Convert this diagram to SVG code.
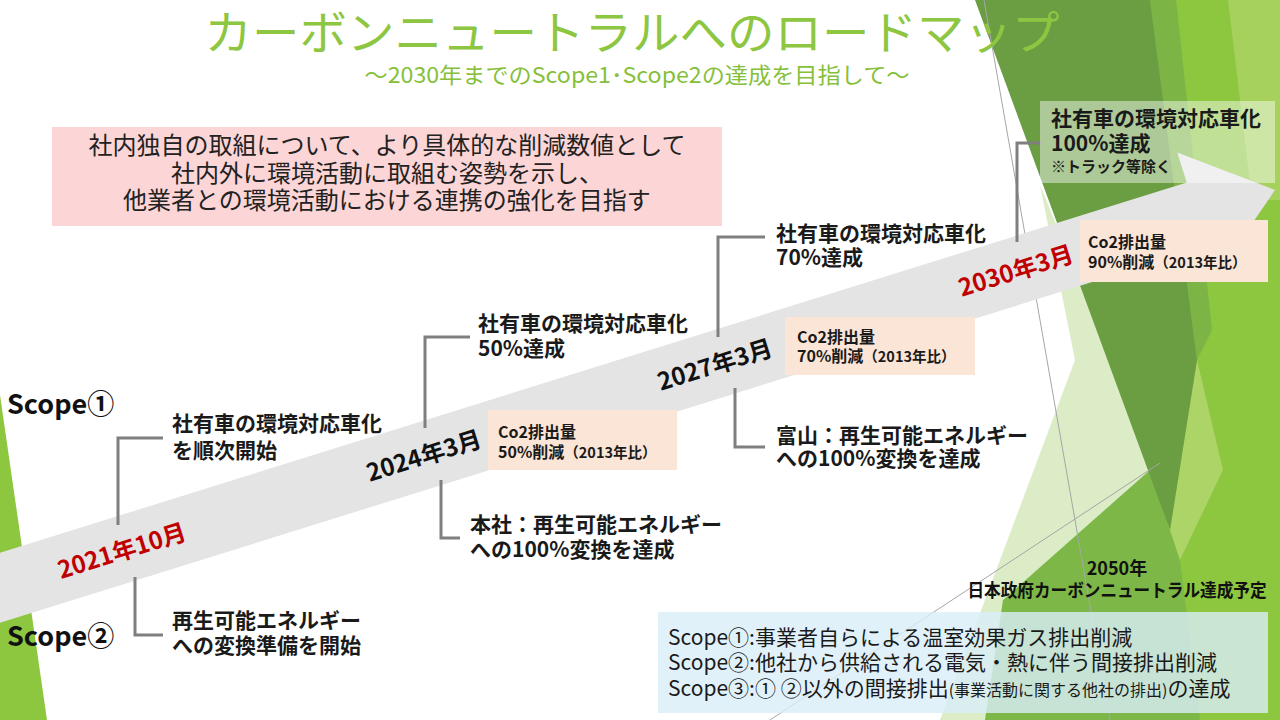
<svg xmlns="http://www.w3.org/2000/svg" width="1280" height="720" viewBox="0 0 1280 720">
<style>
text{font-family:"Noto Sans CJK JP","Noto Sans",sans-serif;}
.lbl{font-size:21px;font-weight:700;fill:#1a1a1a;}
.note{font-size:15px;font-weight:700;fill:#1a1a1a;}
.co2{font-size:16px;font-weight:700;fill:#1a1a1a;}
.co2s{font-size:14.5px;}
.date{font-size:24px;font-weight:700;text-anchor:middle;}
.red{fill:#c00000;}
.blk{fill:#111;}
.scope{font-size:27px;font-weight:700;fill:#111;}
.leg{font-size:21px;fill:#1a1a1a;}
.legs{font-size:16px;}
.pink{font-size:24px;fill:#222;text-anchor:middle;}
.goal{font-size:18px;font-weight:700;fill:#111;text-anchor:middle;}
.conn{fill:none;stroke:#7f7f7f;stroke-width:3;}
.peach{fill:#fbe5d6;}
.thin{stroke:#a6a6a6;stroke-width:1;fill:none;}
</style>
<rect width="1280" height="720" fill="#ffffff"/>
<g id="decor">
  <polygon points="0,395 47,720 0,720" fill="#8dc63f"/>
  <polygon points="1140,0 1280,0 1280,720 980,720 1150,470" fill="#8dc63f"/>
  <polygon points="1228,0 1280,0 1280,200 1252,200" fill="#a6d15c"/>
  <polygon points="1040,185 1112,360 1170,530 1060,720 940,720 1075,360" fill="#dcecc7"/>
  <polygon points="1150,470 1180,560 1200,720 985,720 1003,600" fill="#7cb748"/>
  <polygon points="1197,360 1223,470 1180,560 1170,530" fill="#add466"/>
  <polygon points="1150,0 1176,0 1212,330 1197,360" fill="#7cb445"/>
  <polygon points="975,0 1150,0 1197,360 1170,530" fill="#6b9d43"/>
  <line class="thin" x1="984" y1="0" x2="1110" y2="720"/>
  <line class="thin" x1="770" y1="720" x2="1160" y2="463"/>
</g>
<g id="band">
  <polygon points="-50,568.4 1186.7,182.5 1177.3,152.4 1275,190 1216.1,276.4 1206.6,246.3 -50,638.4" fill="#e4e4e4"/>
</g>
<g id="title">
  <text x="632" y="49" font-size="46" fill="#8dc640" text-anchor="middle" textLength="855" lengthAdjust="spacingAndGlyphs">カーボンニュートラルへのロードマップ</text>
  <text x="637" y="83" font-size="22" fill="#86c03a" text-anchor="middle" textLength="545" lengthAdjust="spacingAndGlyphs">～2030年までのScope1･Scope2の達成を目指して～</text>
</g>
<g id="goal-box">
  <rect x="52" y="127" width="670" height="99" fill="#fcd5d6"/>
  <text class="pink" x="387" y="154">社内独自の取組について、より具体的な削減数値として</text>
  <text class="pink" x="387" y="182">社内外に環境活動に取組む姿勢を示し、</text>
  <text class="pink" x="387" y="209">他業者との環境活動における連携の強化を目指す</text>
</g>
<g id="connectors">
  <path class="conn" d="M163,438 H118 V525"/>
  <path class="conn" d="M135,577 V635 H163"/>
  <path class="conn" d="M470,337 H425 V428"/>
  <path class="conn" d="M441,480 V538 H460"/>
  <path class="conn" d="M765,237 H718 V337"/>
  <path class="conn" d="M735,388 V447 H765"/>
  <path class="conn" d="M1042,143 H1017 V242"/>
</g>
<g id="scope-labels">
  <text class="scope" x="7" y="414">Scope①</text>
  <text class="scope" x="7" y="646">Scope②</text>
</g>
<g id="m2021">
  <text class="date red" transform="translate(122,551) rotate(-17.3)" y="8.5">2021年10月</text>
  <text class="lbl" x="172" y="431">社有車の環境対応車化</text>
  <text class="lbl" x="172" y="458">を順次開始</text>
  <text class="lbl" x="172" y="628">再生可能エネルギー</text>
  <text class="lbl" x="172" y="653">への変換準備を開始</text>
</g>
<g id="m2024">
  <text class="date blk" transform="translate(424,456) rotate(-17.3)" y="8.5">2024年3月</text>
  <text class="lbl" x="478" y="331">社有車の環境対応車化</text>
  <text class="lbl" x="478" y="356">50%達成</text>
  <rect class="peach" x="488" y="410" width="189" height="60"/>
  <text class="co2" x="498" y="438">Co2排出量</text>
  <text class="co2" x="498" y="458">50%削減<tspan class="co2s">（2013年比）</tspan></text>
  <text class="lbl" x="470" y="532">本社：再生可能エネルギー</text>
  <text class="lbl" x="470" y="557">への100%変換を達成</text>
</g>
<g id="m2027">
  <text class="date blk" transform="translate(715,365) rotate(-17.3)" y="8.5">2027年3月</text>
  <text class="lbl" x="776" y="241">社有車の環境対応車化</text>
  <text class="lbl" x="776" y="265">70%達成</text>
  <rect class="peach" x="785" y="317" width="190" height="58"/>
  <text class="co2" x="797" y="343">Co2排出量</text>
  <text class="co2" x="797" y="362">70%削減<tspan class="co2s">（2013年比）</tspan></text>
  <text class="lbl" x="776" y="443">富山：再生可能エネルギー</text>
  <text class="lbl" x="776" y="466">への100%変換を達成</text>
</g>
<g id="m2030">
  <rect x="1040" y="101" width="235" height="82" fill="#ffffff" fill-opacity="0.45"/>
  <text class="lbl" x="1051" y="126">社有車の環境対応車化</text>
  <text class="lbl" x="1051" y="151">100%達成</text>
  <text class="note" x="1051" y="172">※トラック等除く</text>
  <text class="date red" transform="translate(1016,271) rotate(-17.3)" y="8.5">2030年3月</text>
  <rect class="peach" x="1080" y="220" width="188" height="62"/>
  <text class="co2" x="1088" y="248">Co2排出量</text>
  <text class="co2" x="1088" y="268">90%削減<tspan class="co2s">（2013年比）</tspan></text>
</g>
<g id="m2050">
  <text class="goal" x="1117" y="575" font-size="19">2050年</text>
  <text class="goal" x="1117" y="597" textLength="299" lengthAdjust="spacingAndGlyphs">日本政府カーボンニュートラル達成予定</text>
</g>
<g id="legend">
  <rect x="658" y="612" width="610" height="101" fill="#daeef9" fill-opacity="0.8"/>
  <text class="leg" x="668" y="645">Scope①:事業者自らによる温室効果ガス排出削減</text>
  <text class="leg" x="668" y="670">Scope②:他社から供給される電気・熱に伴う間接排出削減</text>
  <text class="leg" x="668" y="696">Scope③:① ②以外の間接排出<tspan class="legs">(事業活動に関する他社の排出)</tspan>の達成</text>
</g>
</svg>
